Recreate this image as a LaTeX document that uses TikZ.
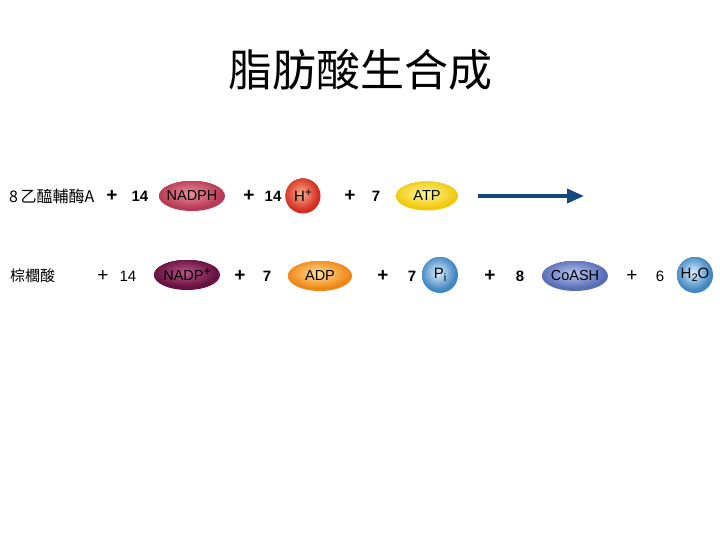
\documentclass[tikz,border=0pt]{standalone}
\usepackage{fontspec}
\setmainfont{Liberation Sans}
\newfontfamily\cjk{Noto Sans CJK TC}
\usetikzlibrary{arrows.meta,shapes.geometric}
\definecolor{arrowblue}{RGB}{22,72,128}
\definecolor{nadphin}{RGB}{232,140,156}
\definecolor{nadphout}{RGB}{184,58,84}
\definecolor{hin}{RGB}{252,170,140}
\definecolor{hout}{RGB}{212,44,32}
\definecolor{atpin}{RGB}{255,246,150}
\definecolor{atpout}{RGB}{240,200,10}
\definecolor{nadpin}{RGB}{180,84,132}
\definecolor{nadpout}{RGB}{104,16,64}
\definecolor{adpin}{RGB}{255,222,146}
\definecolor{adpout}{RGB}{240,134,22}
\definecolor{piin}{RGB}{216,238,252}
\definecolor{piout}{RGB}{66,134,194}
\definecolor{coain}{RGB}{180,196,238}
\definecolor{coaout}{RGB}{90,110,184}
\newcommand{\supplus}{\raisebox{5pt}{\fontsize{12}{12}\selectfont +}}

\begin{document}
\begin{tikzpicture}[
  x=1pt, y=-1pt,
  font=\fontsize{15}{17}\selectfont,
  glow/.style n args={4}{fill=#2, path picture={
    \foreach \k in {0,...,14}{
      \pgfmathsetmacro\f{1-\k/15}
      \pgfmathtruncatemacro\m{100*\k/14}
      \fill[#1!\m!#2] ([xshift=-1.5pt,yshift=2pt]path picture bounding box.center)
        ellipse [x radius=\f*#3, y radius=\f*#4];
    }}},
  mol/.style 2 args={ellipse, minimum width=66pt, minimum height=30pt, inner sep=0pt,
    glow={#1}{#2}{33}{15}},
  ion/.style 2 args={circle, minimum size=36pt, inner sep=0pt,
    glow={#1}{#2}{18}{18}},
  lbl/.style={text=black, inner sep=0pt, font=\fontsize{14.5}{16}\selectfont},
  coefb/.style={font=\bfseries\fontsize{15}{17}\selectfont},
  coef/.style={font=\fontsize{15}{17}\selectfont},
  plusb/.style={font=\bfseries\fontsize{19}{20}\selectfont},
  plus/.style={font=\fontsize{19}{20}\selectfont},
  cname/.style={anchor=west, inner sep=0pt, font=\cjk\fontsize{16}{18}\selectfont},
  react/.style={-{Triangle[length=17pt,width=14pt]}, line width=3.5pt, arrowblue}
]
  \useasboundingbox (0,0) rectangle (720,540);

  \node[font=\cjk\fontsize{44}{48}\selectfont] (title) at (360,70) {脂肪酸生合成};

  % reactants
  \node[cname] (acetyl) at (9,196) {8\,乙醯輔酶A};
  \node[plusb] (pa) at (112,196) {+};
  \node[coefb] (ca) at (140,196) {14};
  \node[mol={nadphin}{nadphout}] (nadph) at (192,196) {};
  \node[lbl] (nadphtxt) at (nadph) {NADPH};
  \node[plusb] (pb) at (249,196) {+};
  \node[coefb] (cb) at (273,196) {14};
  \node[ion={hin}{hout}, minimum size=35pt] (hplus) at (303,196) {};
  \node[lbl, font=\fontsize{15}{17}\selectfont] (hplustxt) at (hplus) {H\supplus};
  \node[plusb] (pc) at (350,196) {+};
  \node[coefb] (cc) at (376,196) {7};
  \node[mol={atpin}{atpout}, minimum width=62pt, minimum height=29pt] (atp) at (427,196) {};
  \node[lbl] (atptxt) at (atp) {ATP};

  \coordinate (arrs) at (478,196);
  \coordinate (arre) at (584,196);
  \draw[react] (arrs) -- (arre);

  % products
  \node[cname, font=\cjk\fontsize{15}{17}\selectfont] (palm) at (10,276) {棕櫚酸};
  \node[plus] (pd) at (103,276) {+};
  \node[coef] (cd) at (128,276) {14};
  \node[mol={nadpin}{nadpout}] (nadp) at (187,275) {};
  \node[lbl] (nadptxt) at (nadp) {NADP\supplus};
  \node[plusb] (pe) at (240,276) {+};
  \node[coefb] (ce) at (267,276) {7};
  \node[mol={adpin}{adpout}, minimum width=64pt] (adp) at (320,276) {};
  \node[lbl] (adptxt) at (adp) {ADP};
  \node[plusb] (pf) at (383,276) {+};
  \node[coefb] (cf) at (412,276) {7};
  \node[ion={piin}{piout}] (pi) at (440,275) {};
  \node[lbl, font=\fontsize{15}{17}\selectfont] (pitxt) at (pi)
    {P\raisebox{-3pt}{\fontsize{11}{11}\selectfont i}};
  \node[plusb] (pg) at (490,276) {+};
  \node[coefb] (cg) at (520,276) {8};
  \node[mol={coain}{coaout}] (coash) at (575,276) {};
  \node[lbl] (coashtxt) at (coash) {CoASH};
  \node[plus] (ph) at (632,276) {+};
  \node[coef] (ch) at (660,276) {6};
  \node[ion={piin}{piout}] (water) at (695,275) {};
  \node[lbl, font=\fontsize{15}{17}\selectfont] (watertxt) at (water)
    {H\raisebox{-3pt}{\fontsize{11}{11}\selectfont 2}O};
\end{tikzpicture}
\end{document}
